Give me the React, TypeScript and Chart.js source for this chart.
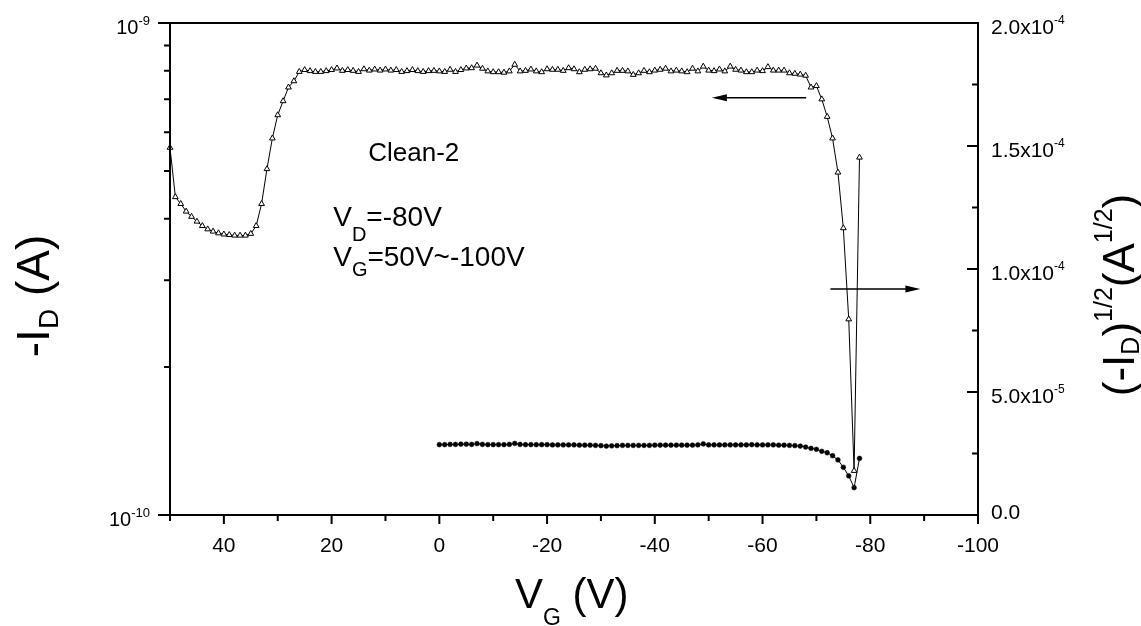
import React, { useEffect, useRef } from "react";
import { Chart, registerables } from "chart.js";

Chart.register(...registerables);

const FONT = "'Liberation Sans', Arial, Helvetica, sans-serif";

// Gate sweep for the log-scale transfer curve (V)
const vgTransfer = [
  50, 49, 48, 47, 46, 45, 44, 43, 42, 41,
  40, 39, 38, 37, 36, 35, 34, 33, 32, 31,
  30, 29, 28, 27, 26, 25, 24, 23, 22, 21,
  20, 19, 18, 17, 16, 15, 14, 13, 12, 11,
  10, 9, 8, 7, 6, 5, 4, 3, 2, 1,
  0, -1, -2, -3, -4, -5, -6, -7, -8, -9,
  -10, -11, -12, -13, -14, -15, -16, -17, -18, -19,
  -20, -21, -22, -23, -24, -25, -26, -27, -28, -29,
  -30, -31, -32, -33, -34, -35, -36, -37, -38, -39,
  -40, -41, -42, -43, -44, -45, -46, -47, -48, -49,
  -50, -51, -52, -53, -54, -55, -56, -57, -58, -59,
  -60, -61, -62, -63, -64, -65, -66, -67, -68, -69,
  -70, -71, -72, -73, -74, -75, -76, -77, -78,
];
// -I_D in units of 1e-10 A
const idTransfer = [
  5.58, 4.43, 4.29, 4.14, 4.04, 3.95, 3.87, 3.81, 3.77, 3.74,
  3.72, 3.71, 3.70, 3.70, 3.70, 3.73, 3.87, 4.29, 5.05, 5.83,
  6.50, 6.94, 7.40, 7.62, 7.96, 8.03, 7.99, 7.96, 7.96, 7.99,
  8.03, 8.09, 8.00, 8.03, 8.00, 7.96, 8.06, 8.01, 8.05, 8.01,
  8.05, 8.01, 8.03, 7.96, 7.99, 8.03, 7.99, 7.96, 7.99, 8.00,
  7.98, 7.96, 8.04, 7.96, 8.03, 8.09, 8.10, 8.20, 8.08, 7.98,
  7.95, 7.95, 7.93, 7.98, 8.23, 7.98, 8.00, 8.05, 7.98, 7.95,
  8.06, 8.04, 8.04, 8.00, 8.10, 8.06, 7.95, 8.04, 8.06, 8.08,
  7.91, 7.83, 7.91, 8.00, 8.00, 7.98, 7.85, 7.91, 8.00, 7.95,
  8.01, 8.04, 8.08, 7.98, 8.01, 7.98, 7.95, 8.08, 7.98, 8.16,
  8.01, 7.99, 8.05, 7.98, 8.16, 8.04, 8.01, 7.95, 7.95, 8.01,
  7.99, 8.14, 8.01, 8.01, 8.01, 7.91, 7.89, 7.86, 7.82, 7.40,
  7.45, 7.00, 6.45, 5.83, 4.97, 3.83, 2.50, 1.23, 5.33,
];
const ID_UNIT = 1e-10;

// Gate sweep for the sqrt curve (V)
const vgSqrt = [
  0, -1, -2, -3, -4, -5, -6, -7, -8, -9,
  -10, -11, -12, -13, -14, -15, -16, -17, -18, -19,
  -20, -21, -22, -23, -24, -25, -26, -27, -28, -29,
  -30, -31, -32, -33, -34, -35, -36, -37, -38, -39,
  -40, -41, -42, -43, -44, -45, -46, -47, -48, -49,
  -50, -51, -52, -53, -54, -55, -56, -57, -58, -59,
  -60, -61, -62, -63, -64, -65, -66, -67, -68, -69,
  -70, -71, -72, -73, -74, -75, -76, -77, -78,
];
// (-I_D)^1/2 in units of 1e-5 A^1/2
const sqrtId = [
  2.86, 2.86, 2.87, 2.87, 2.88, 2.88, 2.87, 2.90, 2.87, 2.86,
  2.86, 2.86, 2.86, 2.87, 2.91, 2.87, 2.86, 2.86, 2.86, 2.86,
  2.86, 2.85, 2.85, 2.85, 2.85, 2.85, 2.84, 2.84, 2.84, 2.83,
  2.82, 2.80, 2.81, 2.82, 2.83, 2.83, 2.83, 2.83, 2.83, 2.83,
  2.84, 2.84, 2.84, 2.84, 2.84, 2.84, 2.84, 2.84, 2.85, 2.89,
  2.85, 2.85, 2.85, 2.85, 2.85, 2.85, 2.85, 2.85, 2.86, 2.85,
  2.85, 2.85, 2.85, 2.84, 2.84, 2.83, 2.82, 2.80, 2.76, 2.71,
  2.67, 2.59, 2.53, 2.41, 2.24, 1.94, 1.59, 1.11, 2.30,
];
const SQRT_UNIT = 1e-5;

// Axis ticks
const xMajorTicks = [40, 20, 0, -20, -40, -60, -80, -100];
const xMinorTicks = [50, 30, 10, -10, -30, -50, -70, -90];
const leftMajorTicks = [1e-10, 1e-9];
const leftMajorExp = ["-10", "-9"];
const leftMinorTicks = [2e-10, 3e-10, 4e-10, 5e-10, 6e-10, 7e-10, 8e-10, 9e-10];
const rightMajorTicks = [0, 5e-5, 1e-4, 1.5e-4, 2e-4];
const rightMantissa = ["0.0", "5.0x10", "1.0x10", "1.5x10", "2.0x10"];
const rightExp = ["", "-5", "-4", "-4", "-4"];
const rightMinorTicks = [2.5e-5, 7.5e-5, 1.25e-4, 1.75e-4];

// Annotations (data coordinates)
const noteClean = { text: "Clean-2", vg: 13.2, id: 5.23e-10 };
const noteVD = { vg: 19.7, id: 3.86e-10 };
const noteVG = { vg: 19.7, id: 3.2e-10 };
const arrowLeft = { fromVG: -68.1, toVG: -50.6, id: 7.05e-10 };
const arrowRight = { fromVG: -72.6, toVG: -89.3, sqrt: 9.19e-5 };

type Seg = { t: string; size: number; dy: number };

function segsWidth(ctx: CanvasRenderingContext2D, segs: Seg[]) {
  let w = 0;
  for (const s of segs) {
    ctx.font = `${s.size}px ${FONT}`;
    w += ctx.measureText(s.t).width;
  }
  return w;
}

function drawSegs(
  ctx: CanvasRenderingContext2D,
  segs: Seg[],
  x: number,
  y: number,
  align: "left" | "right" | "center"
) {
  const total = segsWidth(ctx, segs);
  let cx = align === "left" ? x : align === "right" ? x - total : x - total / 2;
  ctx.textAlign = "left";
  ctx.textBaseline = "alphabetic";
  for (const s of segs) {
    ctx.font = `${s.size}px ${FONT}`;
    ctx.fillText(s.t, cx, y + s.dy);
    cx += ctx.measureText(s.t).width;
  }
}

function arrow(ctx: CanvasRenderingContext2D, x1: number, x2: number, y: number) {
  const dir = x2 > x1 ? 1 : -1;
  const headLen = 15;
  const half = 3.5;
  ctx.lineWidth = 1.5;
  ctx.beginPath();
  ctx.moveTo(x1, y);
  ctx.lineTo(x2 - dir * headLen * 0.8, y);
  ctx.stroke();
  ctx.beginPath();
  ctx.moveTo(x2, y);
  ctx.lineTo(x2 - dir * headLen, y - half);
  ctx.lineTo(x2 - dir * headLen, y + half);
  ctx.closePath();
  ctx.fill();
}

const originAxes = {
  id: "originAxes",
  afterDraw(chart: any) {
    const ctx: CanvasRenderingContext2D = chart.ctx;
    const { left, right, top, bottom } = chart.chartArea;
    const xs = chart.scales.x;
    const yl = chart.scales.yL;
    const yr = chart.scales.yR;
    ctx.save();
    ctx.strokeStyle = "#000";
    ctx.fillStyle = "#000";
    ctx.lineWidth = 2;
    ctx.strokeRect(left, top, right - left, bottom - top);

    // ticks
    ctx.beginPath();
    leftMajorTicks.forEach((v) => {
      const y = yl.getPixelForValue(v);
      ctx.moveTo(left - 12, y);
      ctx.lineTo(left, y);
    });
    leftMinorTicks.forEach((v) => {
      const y = yl.getPixelForValue(v);
      ctx.moveTo(left - 6, y);
      ctx.lineTo(left, y);
    });
    xMajorTicks.forEach((v) => {
      const x = xs.getPixelForValue(v);
      ctx.moveTo(x, bottom);
      ctx.lineTo(x, bottom + 9);
    });
    xMinorTicks.forEach((v) => {
      const x = xs.getPixelForValue(v);
      ctx.moveTo(x, bottom);
      ctx.lineTo(x, bottom + 6);
    });
    rightMajorTicks.forEach((v) => {
      const y = yr.getPixelForValue(v);
      ctx.moveTo(right - 11, y);
      ctx.lineTo(right, y);
    });
    rightMinorTicks.forEach((v) => {
      const y = yr.getPixelForValue(v);
      ctx.moveTo(right - 6, y);
      ctx.lineTo(right, y);
    });
    ctx.stroke();

    // tick labels
    xMajorTicks.forEach((v) => {
      const x = xs.getPixelForValue(v);
      drawSegs(ctx, [{ t: String(v), size: 21, dy: 0 }], x, bottom + 37, "center");
    });
    leftMajorTicks.forEach((v, i) => {
      const y = yl.getPixelForValue(v);
      drawSegs(
        ctx,
        [
          { t: "10", size: 20, dy: 0 },
          { t: leftMajorExp[i], size: 13, dy: -9 },
        ],
        left - 20,
        y + 11,
        "right"
      );
    });
    rightMajorTicks.forEach((v, i) => {
      const y = yr.getPixelForValue(v);
      if (rightExp[i]) {
        drawSegs(
          ctx,
          [
            { t: rightMantissa[i], size: 21, dy: 0 },
            { t: rightExp[i], size: 12, dy: -10.5 },
          ],
          right + 13,
          y + 11,
          "left"
        );
      } else {
        drawSegs(ctx, [{ t: rightMantissa[i], size: 21, dy: 0 }], right + 13, y + 3.5, "left");
      }
    });

    // axis titles
    drawSegs(
      ctx,
      [
        { t: "V", size: 42, dy: 0 },
        { t: "G", size: 23, dy: 17 },
        { t: " (V)", size: 42, dy: 0 },
      ],
      515,
      608,
      "left"
    );

    ctx.save();
    ctx.translate(49, 296);
    ctx.rotate(-Math.PI / 2);
    drawSegs(
      ctx,
      [
        { t: "-I", size: 46, dy: 0 },
        { t: "D", size: 28, dy: 9 },
        { t: " (A)", size: 46, dy: 0 },
      ],
      0,
      0,
      "center"
    );
    ctx.restore();

    ctx.save();
    ctx.translate(1134, 295);
    ctx.rotate(-Math.PI / 2);
    drawSegs(
      ctx,
      [
        { t: "(-I", size: 44, dy: 0 },
        { t: "D", size: 25, dy: 5 },
        { t: ")", size: 44, dy: 0 },
        { t: "1/2", size: 25, dy: -22 },
        { t: "(A", size: 44, dy: 0 },
        { t: "1/2", size: 25, dy: -22 },
        { t: ")", size: 44, dy: 0 },
      ],
      0,
      0,
      "center"
    );
    ctx.restore();

    // annotations
    drawSegs(
      ctx,
      [{ t: noteClean.text, size: 26, dy: 0 }],
      xs.getPixelForValue(noteClean.vg),
      yl.getPixelForValue(noteClean.id),
      "left"
    );
    drawSegs(
      ctx,
      [
        { t: "V", size: 28, dy: 0 },
        { t: "D", size: 20, dy: 15 },
        { t: "=-80V", size: 28, dy: 0 },
      ],
      xs.getPixelForValue(noteVD.vg),
      yl.getPixelForValue(noteVD.id),
      "left"
    );
    drawSegs(
      ctx,
      [
        { t: "V", size: 28, dy: 0 },
        { t: "G", size: 20, dy: 10 },
        { t: "=50V~-100V", size: 28, dy: 0 },
      ],
      xs.getPixelForValue(noteVG.vg),
      yl.getPixelForValue(noteVG.id),
      "left"
    );

    arrow(
      ctx,
      xs.getPixelForValue(arrowLeft.fromVG),
      xs.getPixelForValue(arrowLeft.toVG),
      yl.getPixelForValue(arrowLeft.id)
    );
    arrow(
      ctx,
      xs.getPixelForValue(arrowRight.fromVG),
      xs.getPixelForValue(arrowRight.toVG),
      yr.getPixelForValue(arrowRight.sqrt)
    );
    ctx.restore();
  },
};

export default function App() {
  const canvasRef = useRef<HTMLCanvasElement | null>(null);

  useEffect(() => {
    const canvas = canvasRef.current;
    if (!canvas) return;
    const chart = new Chart(canvas, {
      type: "line",
      data: {
        datasets: [
          {
            label: "-I_D",
            data: vgTransfer.map((v, i) => ({ x: v, y: idTransfer[i] * ID_UNIT })),
            yAxisID: "yL",
            borderColor: "#000",
            borderWidth: 1,
            pointStyle: "triangle",
            pointRadius: 3.3,
            pointBackgroundColor: "#fff",
            pointBorderColor: "#000",
            pointBorderWidth: 1,
            tension: 0,
            clip: false as any,
          },
          {
            label: "(-I_D)^1/2",
            data: vgSqrt.map((v, i) => ({ x: v, y: sqrtId[i] * SQRT_UNIT })),
            yAxisID: "yR",
            borderColor: "#000",
            borderWidth: 1,
            pointStyle: "circle",
            pointRadius: 2.4,
            pointBackgroundColor: "#000",
            pointBorderColor: "#000",
            pointBorderWidth: 0.5,
            tension: 0,
            clip: false as any,
          },
        ],
      },
      options: {
        responsive: false,
        animation: false,
        devicePixelRatio: 1,
        layout: { padding: { top: 23, left: 0, right: 0, bottom: 0 } },
        plugins: { legend: { display: false }, tooltip: { enabled: false } },
        scales: {
          x: {
            type: "linear",
            min: -100,
            max: 50,
            reverse: true,
            ticks: { display: false },
            grid: { display: false },
            border: { display: false },
            afterFit: (s: any) => {
              s.height = 111;
            },
          },
          yL: {
            type: "logarithmic",
            position: "left",
            min: 1e-10,
            max: 1e-9,
            ticks: { display: false },
            grid: { display: false },
            border: { display: false },
            afterFit: (s: any) => {
              s.width = 170;
            },
          },
          yR: {
            type: "linear",
            position: "right",
            min: 0,
            max: 2e-4,
            ticks: { display: false },
            grid: { display: false },
            border: { display: false },
            afterFit: (s: any) => {
              s.width = 163;
            },
          },
        },
      } as any,
      plugins: [originAxes as any],
    });
    return () => chart.destroy();
  }, []);

  return (
    <div style={{ position: "absolute", left: 0, top: 0, width: 1141, height: 626, background: "#fff" }}>
      <canvas ref={canvasRef} width={1141} height={626} style={{ display: "block" }} />
    </div>
  );
}
